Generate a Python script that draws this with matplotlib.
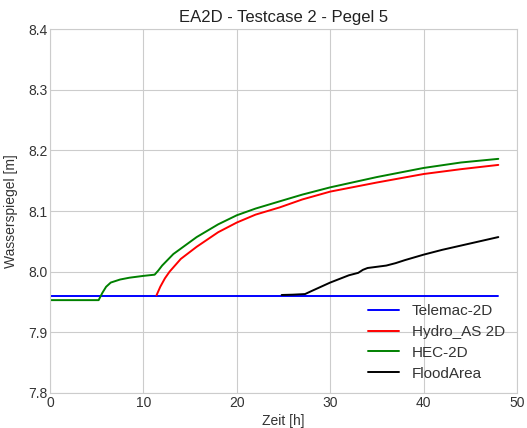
import matplotlib
matplotlib.use("Agg")
import matplotlib.pyplot as plt
import seaborn as sns

sns.set_style("whitegrid")
plt.rcParams['font.family'] = ['Liberation Sans', 'DejaVu Sans']

tele_x = [0, 48]
tele_y = [7.96, 7.96]

hec_x = [0, 5.2, 5.6, 6.0, 6.5, 7.5, 8.5, 10, 11.2, 11.6, 12, 13.2, 15.7, 18, 20, 22, 24.6, 27, 30, 35, 40, 44, 48]
hec_y = [7.953, 7.953, 7.965, 7.975, 7.982, 7.987, 7.990, 7.993, 7.995, 8.002, 8.010, 8.029, 8.057, 8.078, 8.093,
         8.104, 8.116, 8.127, 8.139, 8.156, 8.171, 8.180, 8.186]

hyd_x = [11.4, 11.6, 11.8, 12.3, 12.8, 14, 15.7, 18, 20, 22, 24.6, 27, 30, 35, 40, 44, 48]
hyd_y = [7.961, 7.968, 7.975, 7.989, 8.000, 8.021, 8.041, 8.065, 8.081, 8.094, 8.106, 8.119, 8.132, 8.147, 8.161,
         8.169, 8.176]

fa_x = [24.8, 26, 27.3, 28, 29, 30, 31, 32, 33, 33.5, 34, 35, 36, 37, 38, 40, 42, 44, 46, 48]
fa_y = [7.9615, 7.962, 7.963, 7.968, 7.975, 7.982, 7.988, 7.994, 7.998, 8.003, 8.006, 8.008, 8.010, 8.014,
        8.019, 8.028, 8.036, 8.043, 8.050, 8.057]

fig = plt.figure(figsize=(5.27, 4.28), dpi=100)
ax = fig.add_axes([0.095, 0.082, 0.886, 0.850])
ax.plot(tele_x, tele_y, color='blue', lw=1.4, label='Telemac-2D')
ax.plot(hyd_x, hyd_y, color='red', lw=1.4, label='Hydro_AS 2D')
ax.plot(hec_x, hec_y, color='green', lw=1.4, label='HEC-2D')
ax.plot(fa_x, fa_y, color='black', lw=1.4, label='FloodArea')
ax.set_xlim(0, 50)
ax.set_ylim(7.8, 8.4)
ax.set_xticks([0, 10, 20, 30, 40, 50])
ax.set_yticks([7.8, 7.9, 8.0, 8.1, 8.2, 8.3, 8.4])
ax.tick_params(labelsize=10, pad=2, length=0, labelcolor='#333333')
ax.set_xlabel('Zeit [h]', fontsize=10, labelpad=3, color='#333333')
ax.set_ylabel('Wasserspiegel [m]', fontsize=10, labelpad=7, color='#333333')
ax.set_title('EA2D - Testcase 2 - Pegel 5', fontsize=12, pad=5, color='#222222')
ax.legend(loc='lower right', frameon=False, fontsize=11, handlelength=2.0, handletextpad=0.85,
          borderaxespad=0.4, labelspacing=0.45, labelcolor='#333333')
fig.savefig('out.png', dpi=100)
